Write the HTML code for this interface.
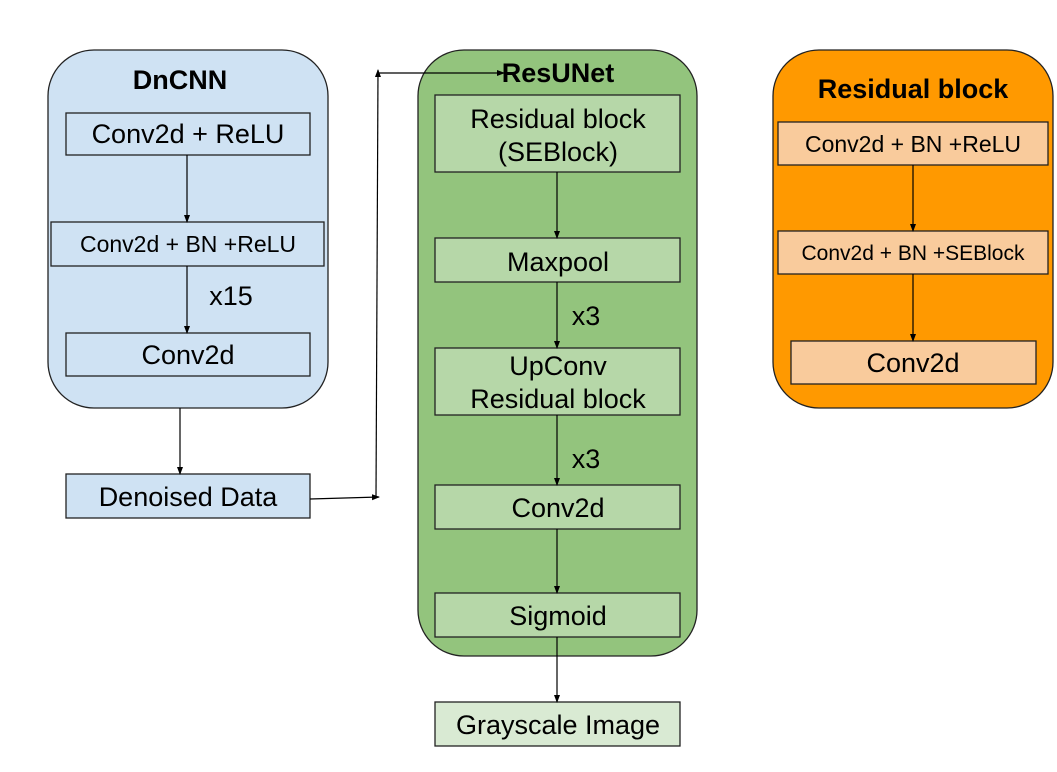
<!DOCTYPE html>
<html><head><style>
html,body{margin:0;padding:0;background:#fff;}
svg{display:block;}
text{font-family:"Liberation Sans",Arial,sans-serif;fill:#000;text-anchor:middle;}
</style></head><body>
<svg width="1057" height="772" viewBox="0 0 1057 772" xmlns="http://www.w3.org/2000/svg">
<defs>
<marker id="a" markerWidth="8" markerHeight="8" refX="7" refY="4" orient="auto" markerUnits="userSpaceOnUse">
<path d="M0,1 L8,4 L0,7 Z" fill="#000"/>
</marker>
</defs>
<g stroke="#222" stroke-width="1.3">
<rect x="48" y="50" width="280" height="358" rx="46" fill="#cfe2f3"/>
<rect x="66" y="113" width="244" height="42" fill="#cfe2f3"/>
<rect x="51" y="222" width="273" height="44" fill="#cfe2f3"/>
<rect x="66" y="333" width="244" height="43" fill="#cfe2f3"/>
<rect x="66" y="474" width="244" height="44" fill="#cfe2f3"/>
<rect x="418" y="50" width="279" height="606" rx="46" fill="#93c47d"/>
<rect x="435" y="95" width="245" height="77" fill="#b6d7a8"/>
<rect x="435" y="238" width="245" height="44" fill="#b6d7a8"/>
<rect x="435" y="348" width="245" height="67" fill="#b6d7a8"/>
<rect x="435" y="485" width="245" height="44" fill="#b6d7a8"/>
<rect x="435" y="593" width="245" height="44" fill="#b6d7a8"/>
<rect x="435" y="702" width="245" height="44" fill="#d9ead3"/>
<rect x="773" y="50" width="280" height="358" rx="46" fill="#ff9900"/>
<rect x="778" y="122" width="270" height="43" fill="#f9cb9c"/>
<rect x="778" y="231" width="270" height="43" fill="#f9cb9c"/>
<rect x="791" y="341" width="245" height="43" fill="#f9cb9c"/>
</g>
<g stroke="#000" stroke-width="1.2" fill="none">
<line x1="187" y1="155" x2="187" y2="222" marker-end="url(#a)"/>
<line x1="187" y1="266" x2="187" y2="333" marker-end="url(#a)"/>
<line x1="180" y1="408" x2="180" y2="474" marker-end="url(#a)"/>
<line x1="310" y1="499" x2="379" y2="497" marker-end="url(#a)"/>
<line x1="376" y1="497" x2="378" y2="70" marker-end="url(#a)"/>
<line x1="378" y1="73" x2="504" y2="73" marker-end="url(#a)"/>
<line x1="557" y1="172" x2="557" y2="238" marker-end="url(#a)"/>
<line x1="557" y1="282" x2="557" y2="348" marker-end="url(#a)"/>
<line x1="557" y1="415" x2="557" y2="485" marker-end="url(#a)"/>
<line x1="557" y1="529" x2="557" y2="593" marker-end="url(#a)"/>
<line x1="557" y1="637" x2="557" y2="702" marker-end="url(#a)"/>
<line x1="913" y1="165" x2="913" y2="231" marker-end="url(#a)"/>
<line x1="913" y1="274" x2="913" y2="341" marker-end="url(#a)"/>
</g>
<text x="180" y="89" font-size="27" font-weight="bold">DnCNN</text>
<text x="188" y="143" font-size="27">Conv2d + ReLU</text>
<text x="188" y="252" font-size="23">Conv2d + BN +ReLU</text>
<text x="231" y="305" font-size="27">x15</text>
<text x="188" y="364" font-size="27">Conv2d</text>
<text x="188" y="506" font-size="27">Denoised Data</text>
<text x="558" y="82" font-size="27" font-weight="bold">ResUNet</text>
<text x="558" y="128" font-size="27">Residual block</text>
<text x="558" y="161" font-size="27">(SEBlock)</text>
<text x="558" y="271" font-size="27">Maxpool</text>
<text x="586" y="325" font-size="27">x3</text>
<text x="558" y="375" font-size="27">UpConv</text>
<text x="558" y="408" font-size="27">Residual block</text>
<text x="586" y="468" font-size="27">x3</text>
<text x="558" y="517" font-size="27">Conv2d</text>
<text x="558" y="625" font-size="27">Sigmoid</text>
<text x="558" y="734" font-size="27">Grayscale Image</text>
<text x="913" y="98" font-size="27" font-weight="bold">Residual block</text>
<text x="913" y="152" font-size="23">Conv2d + BN +ReLU</text>
<text x="913" y="260" font-size="21">Conv2d + BN +SEBlock</text>
<text x="913" y="372" font-size="27">Conv2d</text>
</svg>
</body></html>
